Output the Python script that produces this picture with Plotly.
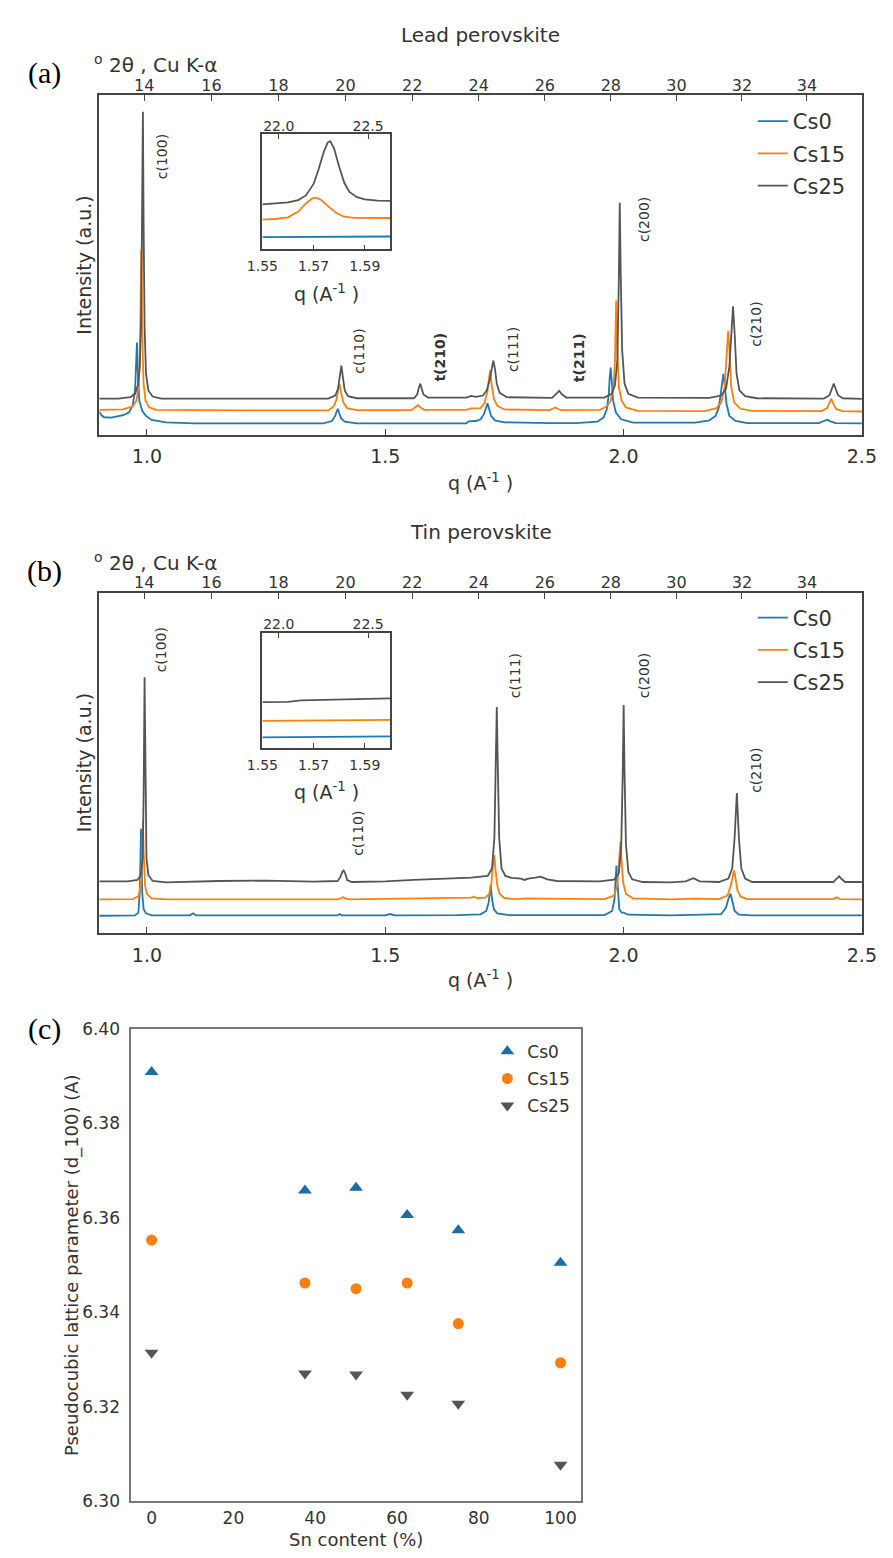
import numpy as np
import plotly.graph_objects as go

# ---------------- DATA ----------------
# Panel (a) Lead perovskite: q (1/A) and intensity (a.u., offset stacked)
pb_cs0_q = [0.900, 0.904, 0.910, 0.925, 0.950, 0.962, 0.970, 0.975, 0.977, 0.979, 0.981, 0.984, 0.990, 0.998,
            1.010, 1.040, 1.100, 1.370, 1.388, 1.395, 1.3985, 1.4006, 1.403, 1.407, 1.415, 1.440, 1.670, 1.675,
            1.690, 1.700, 1.707, 1.712, 1.7146, 1.717, 1.722, 1.730, 1.750, 1.850, 1.900, 1.945, 1.958, 1.965,
            1.969, 1.971, 1.973, 1.975, 1.978, 1.984, 1.995, 2.020, 2.150, 2.180, 2.193, 2.200, 2.205, 2.2094,
            2.212, 2.216, 2.222, 2.235, 2.260, 2.410, 2.420, 2.4276, 2.434, 2.445, 2.500]
pb_cs0_i = [6.8, 5.8, 5.1, 5.0, 5.7, 6.5, 8.5, 13.0, 20.0, 27.1, 18.0, 10.0, 7.0, 5.5,
            4.3, 3.6, 3.3, 3.3, 4.0, 5.5, 7.0, 7.6, 6.5, 4.8, 3.8, 3.3, 3.3, 3.9,
            4.0, 4.5, 6.0, 8.3, 9.2, 8.0, 5.5, 4.2, 3.6, 3.4, 3.4, 3.8, 5.0, 7.5,
            12.0, 17.0, 19.7, 16.0, 10.0, 6.5, 4.5, 3.5, 3.5, 4.2, 5.5, 8.0, 13.0, 17.9,
            15.0, 9.0, 5.5, 4.0, 3.4, 3.4, 4.0, 4.4, 3.9, 3.4, 3.3]

pb_cs15_q = [0.900, 0.950, 0.970, 0.978, 0.983, 0.986, 0.9878, 0.990, 0.993, 0.997, 1.005, 1.020, 1.200, 1.380,
             1.392, 1.398, 1.402, 1.404, 1.407, 1.412, 1.420, 1.440, 1.555, 1.563, 1.569, 1.574, 1.582, 1.670,
             1.680, 1.700, 1.708, 1.714, 1.718, 1.720, 1.723, 1.728, 1.735, 1.750, 1.845, 1.852, 1.857, 1.862,
             1.870, 1.950, 1.965, 1.973, 1.979, 1.982, 1.9845, 1.987, 1.990, 1.996, 2.005, 2.030, 2.170, 2.195,
             2.205, 2.212, 2.217, 2.2195, 2.222, 2.226, 2.232, 2.245, 2.270, 2.415, 2.427, 2.432, 2.4357, 2.440,
             2.446, 2.460, 2.500]
pb_cs15_i = [7.3, 7.4, 8.3, 10.0, 15.0, 30.0, 54.4, 30.0, 15.0, 10.0, 8.0, 7.3, 7.1, 7.1,
             8.3, 10.5, 14.0, 15.0, 12.5, 9.5, 7.8, 7.2, 7.2, 8.0, 8.7, 8.0, 7.3, 7.3,
             7.7, 7.8, 9.2, 12.5, 17.0, 18.9, 15.0, 10.5, 8.5, 7.4, 7.2, 7.7, 8.0, 7.6,
             7.2, 7.3, 8.3, 10.0, 14.0, 22.0, 39.5, 25.0, 14.0, 10.0, 8.0, 7.0, 6.9, 7.8,
             9.5, 14.0, 24.0, 30.5, 25.0, 14.0, 9.5, 7.6, 7.0, 6.9, 7.8, 9.5, 10.5, 9.2,
             7.5, 6.9, 6.8]

pb_cs25_q = [0.900, 0.940, 0.965, 0.975, 0.981, 0.985, 0.988, 0.990, 0.9915, 0.993, 0.995, 0.998, 1.003, 1.012,
             1.030, 1.200, 1.380, 1.395, 1.401, 1.405, 1.408, 1.411, 1.415, 1.422, 1.440, 1.560, 1.567, 1.571,
             1.5735, 1.576, 1.580, 1.590, 1.670, 1.680, 1.690, 1.705, 1.713, 1.719, 1.723, 1.7267, 1.730, 1.734,
             1.740, 1.755, 1.850, 1.858, 1.865, 1.871, 1.880, 1.960, 1.975, 1.982, 1.987, 1.990, 1.992, 1.994,
             1.997, 2.002, 2.010, 2.030, 2.180, 2.205, 2.215, 2.222, 2.226, 2.2297, 2.233, 2.237, 2.243, 2.255,
             2.280, 2.420, 2.432, 2.437, 2.441, 2.445, 2.450, 2.460, 2.500]
pb_cs25_i = [10.6, 10.6, 11.0, 12.0, 14.5, 20.0, 35.0, 60.0, 95.1, 62.0, 32.0, 18.0, 13.0, 11.2,
             10.6, 10.6, 10.6, 11.5, 13.5, 17.5, 20.3, 17.0, 13.0, 11.3, 10.7, 10.7, 11.8, 14.0,
             15.0, 13.8, 11.8, 10.9, 10.9, 11.4, 11.1, 11.5, 13.0, 16.0, 19.5, 21.8, 19.5, 15.0,
             12.3, 11.0, 10.8, 11.8, 12.9, 11.8, 10.9, 10.9, 12.0, 14.5, 22.0, 45.0, 68.3, 48.0,
             25.0, 15.0, 12.0, 10.9, 10.8, 11.5, 13.5, 20.0, 30.0, 37.8, 30.0, 18.0, 13.0, 11.3,
             10.7, 10.6, 11.6, 13.5, 15.0, 13.5, 11.6, 10.7, 10.5]

# Panel (a) inset
pb_in_cs0_q = [1.550, 1.562, 1.575, 1.588, 1.600]
pb_in_cs0_i = [10.7, 10.8, 11.0, 11.1, 11.3]
pb_in_cs15_q = [1.550, 1.555, 1.560, 1.564, 1.567, 1.5695, 1.571, 1.573, 1.576, 1.579, 1.582, 1.586, 1.600]
pb_in_cs15_i = [26.0, 26.5, 28.0, 33.0, 40.0, 44.5, 45.1, 43.0, 37.0, 31.5, 28.5, 27.5, 27.4]
pb_in_cs25_q = [1.550, 1.555, 1.560, 1.564, 1.567, 1.570, 1.572, 1.574, 1.5755, 1.5765, 1.578, 1.580, 1.582,
                1.584, 1.587, 1.590, 1.595, 1.600]
pb_in_cs25_i = [39.3, 40.0, 41.0, 43.0, 47.0, 57.0, 70.0, 85.0, 93.0, 94.2, 88.0, 72.0, 58.0,
                50.0, 45.5, 43.5, 42.5, 42.2]

# Panel (b) Tin perovskite
sn_cs0_q = [0.900, 0.975, 0.982, 0.985, 0.9875, 0.990, 0.993, 0.998, 1.010, 1.090, 1.097, 1.103, 1.400, 1.404,
            1.409, 1.500, 1.510, 1.520, 1.650, 1.700, 1.712, 1.717, 1.7213, 1.724, 1.728, 1.735, 1.760, 1.960,
            1.976, 1.981, 1.985, 1.988, 1.991, 1.996, 2.000, 2.010, 2.100, 2.205, 2.215, 2.220, 2.2244, 2.228,
            2.233, 2.242, 2.270, 2.500]
sn_cs0_i = [5.1, 5.2, 6.0, 12.0, 30.6, 12.0, 7.0, 5.8, 5.2, 5.2, 5.8, 5.2, 5.2, 5.6,
            5.2, 5.2, 5.6, 5.2, 5.3, 5.5, 6.5, 9.0, 14.2, 10.0, 7.0, 5.8, 5.3, 5.3,
            6.5, 10.0, 19.8, 12.0, 7.0, 6.0, 6.0, 5.4, 5.2, 5.6, 7.5, 10.0, 11.6, 9.5,
            6.5, 5.4, 5.2, 5.2]

sn_cs15_q = [0.900, 0.970, 0.982, 0.987, 0.990, 0.9916, 0.993, 0.996, 1.000, 1.010, 1.040, 1.400, 1.408, 1.412,
             1.416, 1.425, 1.680, 1.686, 1.692, 1.710, 1.718, 1.723, 1.726, 1.7288, 1.731, 1.735, 1.740, 1.750,
             1.770, 1.800, 1.830, 1.960, 1.980, 1.986, 1.990, 1.9934, 1.996, 1.999, 2.005, 2.020, 2.100, 2.150,
             2.200, 2.218, 2.225, 2.229, 2.2317, 2.235, 2.239, 2.246, 2.260, 2.440, 2.447, 2.455, 2.500]
sn_cs15_i = [9.9, 10.0, 10.8, 14.0, 24.0, 32.8, 24.0, 14.0, 11.5, 10.2, 9.9, 9.9, 10.3, 10.6,
             10.2, 9.9, 10.4, 10.7, 10.3, 10.4, 11.5, 15.0, 20.0, 22.9, 19.0, 14.0, 11.5, 10.3,
             10.0, 10.2, 10.1, 10.0, 11.0, 13.5, 20.0, 26.8, 21.0, 15.0, 11.5, 10.2, 9.9, 10.1,
             10.0, 11.0, 14.0, 17.0, 18.4, 16.0, 12.5, 10.7, 10.0, 10.0, 10.5, 10.0, 9.9]

sn_cs25_q = [0.900, 0.960, 0.980, 0.987, 0.991, 0.993, 0.995, 0.997, 0.999, 1.003, 1.012, 1.040, 1.150, 1.250,
             1.350, 1.400, 1.406, 1.410, 1.4128, 1.416, 1.420, 1.430, 1.500, 1.560, 1.620, 1.680, 1.715, 1.724,
             1.729, 1.732, 1.734, 1.736, 1.739, 1.744, 1.752, 1.765, 1.785, 1.792, 1.800, 1.815, 1.826, 1.840,
             1.860, 1.950, 1.980, 1.990, 1.995, 1.998, 2.0002, 2.002, 2.005, 2.010, 2.018, 2.040, 2.100, 2.130,
             2.1466, 2.160, 2.200, 2.220, 2.228, 2.233, 2.2377, 2.242, 2.247, 2.255, 2.270, 2.440, 2.447, 2.4524,
             2.458, 2.465, 2.500]
sn_cs25_i = [15.2, 15.2, 15.6, 17.0, 22.0, 40.0, 75.1, 40.0, 22.0, 17.0, 15.3, 14.9, 15.3, 15.4,
             15.1, 15.3, 16.5, 18.0, 18.4, 17.5, 15.6, 15.0, 15.2, 15.6, 16.0, 16.3, 16.8, 19.0,
             28.0, 50.0, 66.4, 50.0, 28.0, 19.0, 16.8, 16.2, 16.0, 15.6, 16.0, 16.3, 16.6, 15.8,
             15.3, 15.2, 15.7, 17.5, 25.0, 45.0, 67.0, 48.0, 26.0, 18.0, 15.8, 15.0, 14.9, 15.2,
             16.1, 15.2, 15.0, 16.0, 19.0, 28.0, 41.1, 28.0, 19.0, 16.0, 15.0, 15.0, 15.8, 16.7,
             15.8, 15.0, 15.0]

# Panel (b) inset
sn_in_cs0_q = [1.550, 1.575, 1.600]
sn_in_cs0_i = [9.4, 9.8, 10.3]
sn_in_cs15_q = [1.550, 1.575, 1.600]
sn_in_cs15_i = [23.7, 24.1, 24.6]
sn_in_cs25_q = [1.550, 1.560, 1.565, 1.580, 1.600]
sn_in_cs25_i = [40.0, 40.2, 41.5, 42.5, 43.2]

# Panel (c) lattice parameter vs Sn content
sn_content = [0, 37.5, 50, 62.5, 75, 100]
d100_cs0 = [6.3909, 6.3658, 6.3664, 6.3606, 6.3574, 6.3505]
d100_cs15 = [6.3553, 6.3462, 6.3450, 6.3462, 6.3376, 6.3293]
d100_cs25 = [6.3314, 6.3270, 6.3268, 6.3225, 6.3206, 6.3077]

# Tick labels
q_ticks = [1.0, 1.5, 2.0, 2.5]
two_theta_ticks = [14, 16, 18, 20, 22, 24, 26, 28, 30, 32, 34]
inset_q_ticks = [1.55, 1.57, 1.59]
inset_tth_ticks = [22.0, 22.5]
c_x_ticks = [0, 20, 40, 60, 80, 100]
c_y_ticks = [6.30, 6.32, 6.34, 6.36, 6.38, 6.40]

series_names = ["Cs0", "Cs15", "Cs25"]

# ---------------- STYLE / LAYOUT ----------------
W, H = 893, 1558
PAGE_OFF = 8  # default body margin of the page around the plot div

def fx(p):
    return (p - PAGE_OFF) / W
def fy(p):
    return 1 - (p - PAGE_OFF) / H

LAMBDA = 1.5406  # Cu K-alpha
def tth_to_q(t):
    return 4 * np.pi * np.sin(np.radians(t / 2.0)) / LAMBDA

COLORS = ["#1f77b4", "#ff7f0e", "#555555"]
MCOLORS = ["#1c6ca8", "#ff7f0e", "#555555"]
FRAME = "#444444"
TXT = "#333333"
FONT = "DejaVu Sans"

fig = go.Figure()

def add_lines(qs, Is, xa, ya, legend, showlegend):
    for k, (q, I) in enumerate(zip(qs, Is)):
        fig.add_trace(go.Scatter(
            x=q, y=I, mode="lines", xaxis=xa, yaxis=ya,
            line=dict(color=COLORS[k], width=1.8),
            name=series_names[k], legend=legend, legendgroup=legend + series_names[k],
            showlegend=showlegend, hoverinfo="skip"))

add_lines([pb_cs0_q, pb_cs15_q, pb_cs25_q], [pb_cs0_i, pb_cs15_i, pb_cs25_i], "x", "y", "legend", True)
add_lines([pb_in_cs0_q, pb_in_cs15_q, pb_in_cs25_q], [pb_in_cs0_i, pb_in_cs15_i, pb_in_cs25_i], "x3", "y3", "legend", False)
add_lines([sn_cs0_q, sn_cs15_q, sn_cs25_q], [sn_cs0_i, sn_cs15_i, sn_cs25_i], "x5", "y5", "legend2", True)
add_lines([sn_in_cs0_q, sn_in_cs15_q, sn_in_cs25_q], [sn_in_cs0_i, sn_in_cs15_i, sn_in_cs25_i], "x7", "y7", "legend2", False)

# empty carrier traces so that the secondary (2-theta) top axes are drawn
for xa_id, ya_id in [("x2", "y"), ("x4", "y3"), ("x6", "y5"), ("x8", "y7")]:
    fig.add_trace(go.Scatter(x=[], y=[], xaxis=xa_id, yaxis=ya_id, mode="lines",
                             showlegend=False, hoverinfo="skip"))

symbols = ["triangle-up", "circle", "triangle-down"]
sizes = [12, 11, 12]
for k, vals in enumerate([d100_cs0, d100_cs15, d100_cs25]):
    fig.add_trace(go.Scatter(
        x=sn_content, y=vals, mode="markers", xaxis="x9", yaxis="y9",
        marker=dict(symbol=symbols[k], size=sizes[k], color=MCOLORS[k], line=dict(width=0)),
        name=series_names[k], legend="legend3", legendgroup="c" + series_names[k],
        showlegend=True, hoverinfo="skip"))

base = dict(showgrid=False, zeroline=False, showline=True, linecolor=FRAME, linewidth=1.5, mirror=True)

def main_axes(xid, yid, y0, y1):
    xd = dict(domain=[fx(86), fx(876)], range=[0.9, 2.5], anchor=yid,
              tickmode="array", tickvals=q_ticks, ticktext=["%.1f" % v for v in q_ticks],
              ticks="inside", ticklen=6, tickwidth=1.2, tickcolor=FRAME,
              tickfont=dict(size=19, color=TXT, family=FONT), ticklabelstandoff=4, **base)
    xt = dict(overlaying=xid, side="top", anchor=yid, range=[0.9, 2.5],
              tickmode="array", tickvals=[tth_to_q(t) for t in two_theta_ticks],
              ticktext=[str(t) for t in two_theta_ticks],
              ticks="inside", ticklen=6, tickwidth=1.2, tickcolor=FRAME,
              tickfont=dict(size=16, color=TXT, family=FONT),
              showgrid=False, zeroline=False, showline=False)
    yd = dict(domain=[fy(y1), fy(y0)], range=[0, 100], anchor=xid,
              showticklabels=False, ticks="", **base)
    return xd, xt, yd

def inset_axes(xid, yid, y0, y1):
    xd = dict(domain=[fx(255), fx(387.5)], range=[1.55, 1.60], anchor=yid,
              tickmode="array", tickvals=inset_q_ticks, ticktext=["%.2f" % v for v in inset_q_ticks],
              ticks="inside", ticklen=5, tickwidth=1.2, tickcolor=FRAME,
              tickfont=dict(size=14, color=TXT, family=FONT), ticklabelstandoff=3, **base)
    xt = dict(overlaying=xid, side="top", anchor=yid, range=[1.55, 1.60],
              tickmode="array", tickvals=[tth_to_q(t) for t in inset_tth_ticks],
              ticktext=["%.1f" % t for t in inset_tth_ticks],
              ticks="inside", ticklen=5, tickwidth=1.2, tickcolor=FRAME,
              tickfont=dict(size=14, color=TXT, family=FONT),
              showgrid=False, zeroline=False, showline=False)
    yd = dict(domain=[fy(y1), fy(y0)], range=[0, 100], anchor=xid,
              showticklabels=False, ticks="", **base)
    return xd, xt, yd

xa, xa2, ya = main_axes("x", "y", 86, 430)
xa3, xa4, ya3 = inset_axes("x3", "y3", 126, 242.5)
xa5, xa6, ya5 = main_axes("x5", "y5", 590, 935)
xa7, xa8, ya7 = inset_axes("x7", "y7", 631, 747.7)

cbase = dict(showgrid=False, zeroline=False, showline=True, linecolor="#777777", linewidth=1.5, mirror=True)
xa9 = dict(domain=[fx(119), fx(585)], range=[-5, 105], anchor="y9",
           tickmode="array", tickvals=c_x_ticks, ticktext=[str(v) for v in c_x_ticks], ticks="",
           tickfont=dict(size=17, color=TXT, family=FONT), ticklabelstandoff=1, **cbase)
ya9 = dict(domain=[fy(1510.3), fy(1032.3)], range=[6.30, 6.40], anchor="x9",
           tickmode="array", tickvals=c_y_ticks, ticktext=["%.2f" % v for v in c_y_ticks], ticks="",
           tickfont=dict(size=17, color=TXT, family=FONT), ticklabelstandoff=6, **cbase)

def ann(text, x, y, size, angle=0, bold=False, family=FONT, color=TXT, xanchor="center"):
    return dict(text=("<b>%s</b>" % text) if bold else text, x=fx(x), y=fy(y), xref="paper", yref="paper",
                showarrow=False, textangle=angle, xanchor=xanchor, yanchor="middle",
                font=dict(size=size, family=family, color=color))

annotations = []
for dy, title, lab in [(0, "Lead perovskite", "(a)"), (504, "Tin perovskite", "(b)")]:
    annotations.append(ann(title, 481, 25 + dy, 20))
    annotations.append(ann(lab, 29, 64 + dy, 30, family="Liberation Serif", color="#000000"))
    annotations.append(ann("<sup>o</sup> 2θ , Cu K-α", 78, 55 + dy, 20, xanchor="left"))
    annotations.append(ann("Intensity (a.u.)", 70, 258 + dy, 19, angle=-90))
    annotations.append(ann("q (A<sup>-1</sup> )", 481, 478 + dy, 19))
    annotations.append(ann("q (A<sup>-1</sup> )", 321, 287 + dy, 19))

peak_labels_a = [("c(100)", 151, 149, False), ("c(110)", 355, 345, False), ("t(210)", 439, 352, True),
                 ("c(111)", 514, 344, False), ("t(211)", 582.5, 352, True), ("c(200)", 651, 212, False),
                 ("c(210)", 766, 318, False)]
peak_labels_b = [("c(100)", 149.5, 648, False), ("c(110)", 354.5, 834, False), ("c(111)", 517.5, 674, False),
                 ("c(200)", 651, 674, False), ("c(210)", 767, 770, False)]
for t, x, y, b in peak_labels_a + peak_labels_b:
    annotations.append(ann(t, x, y, 14, angle=-90, bold=b))

annotations.append(ann("(c)", 29, 1032, 30, family="Liberation Serif", color="#000000"))
annotations.append(ann("Pseudocubic lattice parameter (d_100) (A)", 58, 1271, 18, angle=-90))
annotations.append(ann("Sn content (%)", 352, 1549, 18))

leg = dict(xanchor="left", yanchor="top", bgcolor="rgba(0,0,0,0)", borderwidth=0,
           font=dict(size=21, color=TXT, family=FONT), tracegroupgap=2, itemwidth=30)
fig.update_layout(
    width=W, height=H, margin=dict(l=0, r=0, t=0, b=0),
    paper_bgcolor="white", plot_bgcolor="white",
    font=dict(family=FONT, color=TXT),
    xaxis=xa, xaxis2=xa2, yaxis=ya,
    xaxis3=xa3, xaxis4=xa4, yaxis3=ya3,
    xaxis5=xa5, xaxis6=xa6, yaxis5=ya5,
    xaxis7=xa7, xaxis8=xa8, yaxis7=ya7,
    xaxis9=xa9, yaxis9=ya9,
    legend=dict(x=fx(763), y=fy(92), **leg),
    legend2=dict(x=fx(763), y=fy(595), **leg),
    legend3=dict(x=fx(488), y=fy(1037), xanchor="left", yanchor="top", bgcolor="rgba(0,0,0,0)",
                 font=dict(size=17, color=TXT, family=FONT), tracegroupgap=2),
    annotations=annotations,
    showlegend=True,
)

fig.write_html("out.html")
